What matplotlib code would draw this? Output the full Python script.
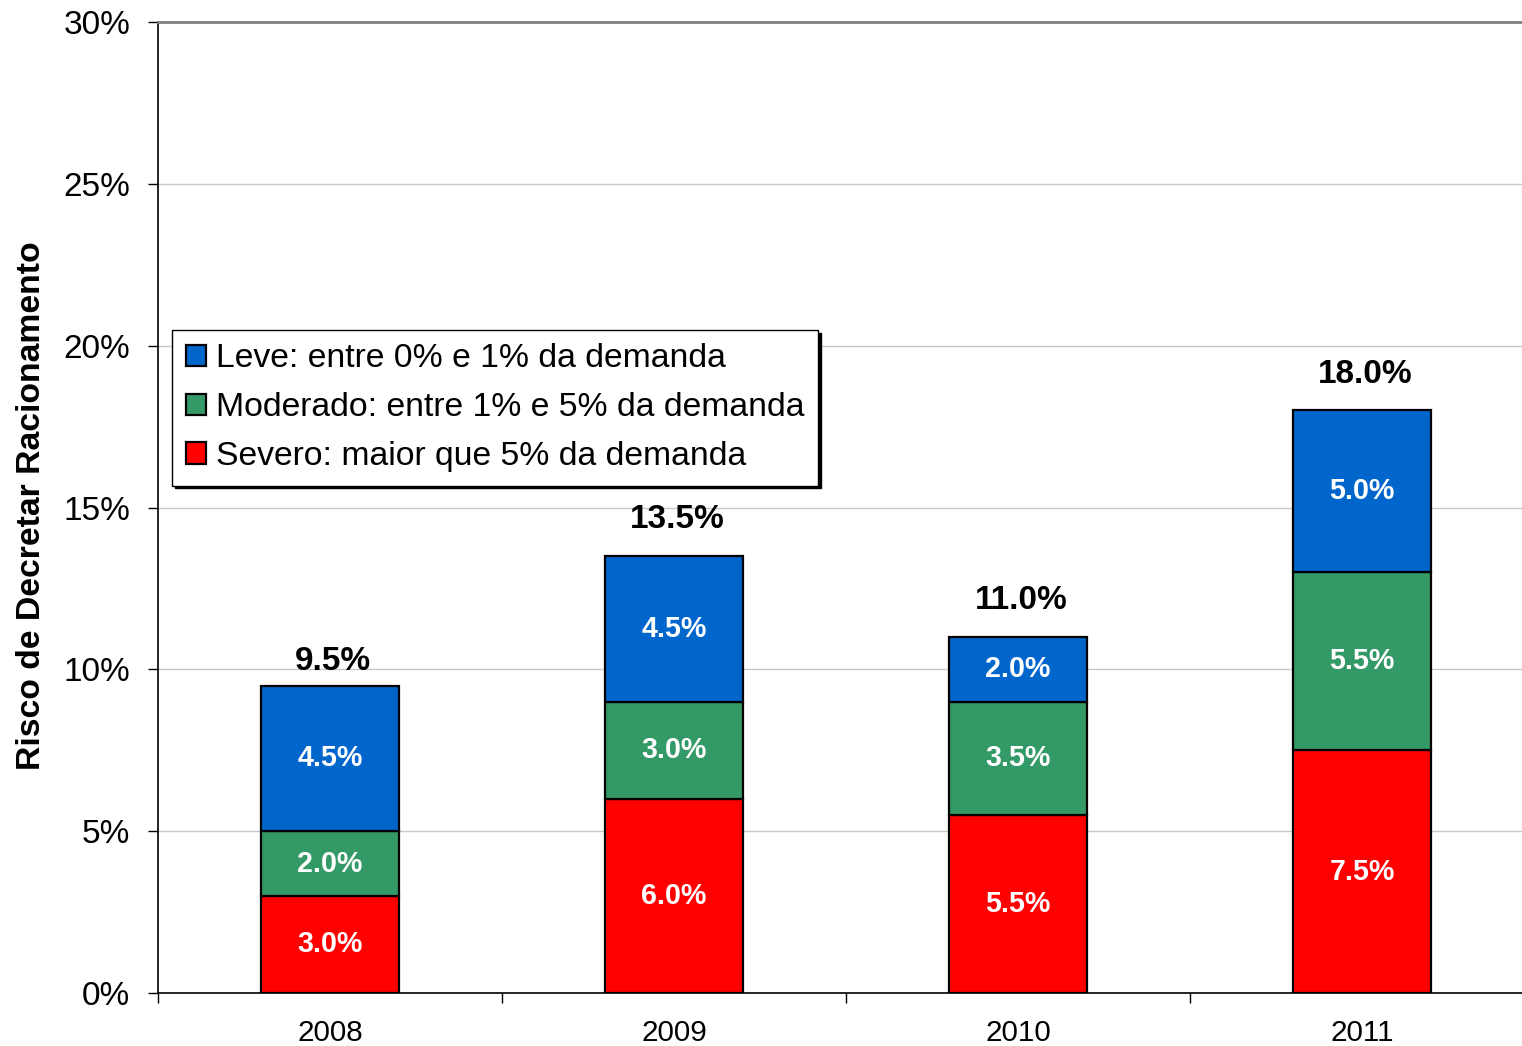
import matplotlib.pyplot as plt
import numpy as np

plt.rcParams['font.family'] = ['Liberation Sans', 'DejaVu Sans']

anos = ['2008', '2009', '2010', '2011']
severo = [3.0, 6.0, 5.5, 7.5]
moderado = [2.0, 3.0, 3.5, 5.5]
leve = [4.5, 4.5, 2.0, 5.0]
nomes = ['Leve: entre 0% e 1% da demanda',
         'Moderado: entre 1% e 5% da demanda',
         'Severo: maior que 5% da demanda']
cores = ['#0066CC', '#339966', '#FF0000']

x = np.arange(len(anos))
sev = np.array(severo)
mod = np.array(moderado)
lev = np.array(leve)
total = sev + mod + lev

fig = plt.figure(figsize=(15.22, 10.46), dpi=100)
ax = fig.add_axes([158/1522, 1 - 993/1046, 1 - 158/1522, 971/1046])

w = 0.4
b_sev = ax.bar(x, sev, w, color=cores[2], edgecolor='black', linewidth=1.6,
               label=nomes[2], zorder=3)
b_mod = ax.bar(x, mod, w, bottom=sev, color=cores[1], edgecolor='black',
               linewidth=1.6, label=nomes[1], zorder=3)
b_lev = ax.bar(x, lev, w, bottom=sev + mod, color=cores[0], edgecolor='black',
               linewidth=1.6, label=nomes[0], zorder=3)

for bars, vals in [(b_sev, sev), (b_mod, mod), (b_lev, lev)]:
    for r, v in zip(bars, vals):
        ax.text(r.get_x() + r.get_width() / 2, r.get_y() + r.get_height() / 2,
                f'{v:.1f}%', ha='center', va='center', color='white',
                fontsize=20.6, fontweight='bold', zorder=4)

# rotulo do total um pouco mais baixo em 2008 (como no original)
desloc = [6, 15, 15, 15]
for xi, t, d in zip(x, total, desloc):
    ax.annotate(f'{t:.1f}%', (xi, t), xytext=(2, d), textcoords='offset points',
                ha='center', va='bottom', fontsize=24, fontweight='bold')

ax.set_ylim(0, 30)
ax.set_xlim(-0.5, 3.465)
ax.set_yticks(np.arange(0, 31, 5))
ax.set_yticklabels([f'{v}%' for v in range(0, 31, 5)])
ax.yaxis.grid(True, color='#c8c8c8', linewidth=1, zorder=0)
ax.set_axisbelow(True)

ax.set_xticks(np.arange(-0.5, 3.5, 1.0))
ax.set_xticklabels([])
ax.set_xticks(x, minor=True)
ax.set_xticklabels(anos, minor=True)
ax.tick_params(axis='x', which='major', direction='out', length=7, width=1)
ax.tick_params(axis='x', which='minor', length=0, labelsize=21.3, pad=19)
ax.tick_params(axis='y', direction='out', length=7, width=1, labelsize=24, pad=13)

ax.spines['right'].set_visible(False)
ax.spines['top'].set_color('#808080')
ax.spines['top'].set_linewidth(2)
ax.spines['left'].set_linewidth(1.2)
ax.spines['bottom'].set_linewidth(1.2)

fig.text(32/1522, 1 - 506/1046, 'Risco de Decretar Racionamento', rotation=90,
         ha='center', va='center', fontsize=24.3, fontweight='bold')

h, l = ax.get_legend_handles_labels()
leg = ax.legend(h[::-1], l[::-1], loc='upper left', bbox_to_anchor=(0.0103, 0.683),
                borderaxespad=0, fontsize=24.3, fancybox=False, framealpha=1,
                edgecolor='black', handlelength=0.6, handleheight=0.6,
                handletextpad=0.3, labelspacing=0.53, borderpad=0.4,
                shadow={'facecolor': 'black', 'edgecolor': 'black', 'alpha': 1})
leg.get_frame().set_linewidth(1)
leg.set_zorder(5)

fig.savefig('out.png', dpi=100)
